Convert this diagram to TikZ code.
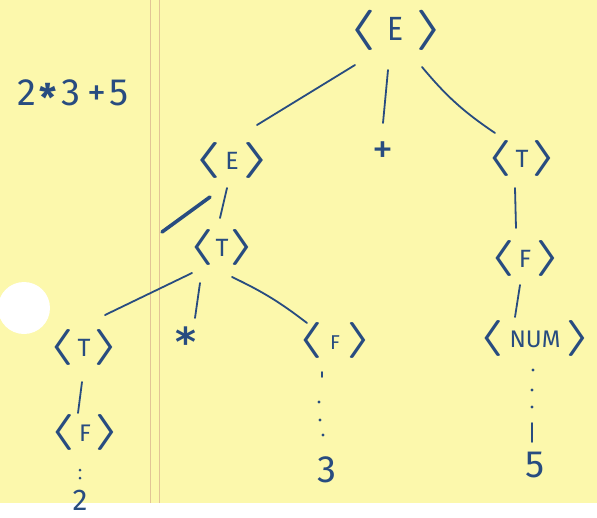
\documentclass[tikz,border=0pt]{standalone}
\usepackage{fontspec}
\setmainfont{Fira Sans}
\newfontfamily\brkfont{DejaVu Sans}
\usetikzlibrary{calc}
\definecolor{paper}{RGB}{252,248,172}
\definecolor{ink}{RGB}{40,76,128}
\definecolor{marginline}{RGB}{226,196,150}
% #1 bracket x-scale
\newcommand\brL[1]{\scalebox{#1}[3.6]{\boldmath$\langle$}}
\newcommand\brR[1]{\scalebox{#1}[3.6]{\boldmath$\rangle$}}
% #1 letters, #2 letter size, #3 gap, #4 bracket x-scale
\newcommand\ntsym[4]{\brL{#4}\hspace{#3}{\fontsize{#2}{#2}\selectfont #1}\hspace{#3}\brR{#4}}
\tikzset{
  every node/.style={inner sep=0pt, text=ink},
  branch/.style={draw=ink, line width=1.8pt, line cap=round},
  dotink/.style={fill=ink},
}
\begin{document}
\begin{tikzpicture}[x=1pt,y=-1pt]
\useasboundingbox (0,0) rectangle (597,517);
% paper
\fill[paper] (0,0) rectangle (597,517);
\fill[white] (0,503) rectangle (597,517);
\draw[marginline, line width=0.8pt] (150,0) -- (150,503);
\draw[marginline, line width=0.8pt] (159,0) -- (159,503);
\fill[white] (24,308) circle (26);
% expression
\node (expr) at (73,96) {\fontsize{38}{38}\selectfont 2\hspace{3pt}{\bfseries\raisebox{-6pt}{*}}\hspace{5pt}3\hspace{7pt}+\hspace{3pt}5};
% nodes
\node (root) at (396,30) {\scalebox{1}[1.12]{\ntsym{E}{30}{11pt}{6.5}}};
\node (E1) at (232,160) {\ntsym{E}{25}{4pt}{6.5}};
\node (plus) at (383,153) {\fontsize{42}{42}\selectfont +};
\node (T2) at (522,158) {\ntsym{T}{25}{3pt}{6}};
\node (T1) at (222,247) {\ntsym{T}{25}{1pt}{6}};
\node (F3) at (525,258) {\ntsym{F}{25}{4pt}{6}};
\node (Tl) at (84,347) {\ntsym{T}{25}{3pt}{6}};
\node (star) at (186,342) {\brkfont\bfseries\fontsize{40}{40}\selectfont\raisebox{-12pt}{*}};
\node (F2) at (335,340) {\ntsym{F}{20}{7pt}{6}};
\node (NUM) at (535,338) {\ntsym{NUM}{24}{5pt}{6}};
\node (Fl) at (85,432) {\ntsym{F}{24}{4pt}{6}};
\node (two) at (80,500) {\fontsize{30}{30}\selectfont 2};
\node (three) at (327,470) {\fontsize{38}{38}\selectfont 3};
\node (five) at (535,465) {\fontsize{38}{38}\selectfont 5};
% branches
\draw[branch] ([shift={(-41,35)}]root.center) -- ([shift={(25,-35)}]E1.center);
\draw[branch] ([shift={(-8,40)}]root.center) -- ([shift={(0,-30)}]plus.center);
\draw[branch] ([shift={(26,37)}]root.center) to[bend right=8] ([shift={(-27,-25)}]T2.center);
\draw[branch] ([shift={(-5,28)}]E1.center) -- ([shift={(-2,-29)}]T1.center);
\draw[branch] ([shift={(-7,30)}]T2.center) -- ([shift={(-9,-30)}]F3.center);
\draw[branch] ([shift={(-5,27)}]F3.center) -- ([shift={(-20,-21)}]NUM.center);
\draw[branch] ([shift={(-30,26)}]T1.center) -- ([shift={(21,-32)}]Tl.center);
\draw[branch] ([shift={(-22,36)}]T1.center) -- ([shift={(9,-24)}]star.center);
\draw[branch] ([shift={(10,30)}]T1.center) to[bend left=6] ([shift={(-28,-17)}]F2.center);
\draw[branch] ([shift={(-2,35)}]Tl.center) -- ([shift={(-7,-19)}]Fl.center);
% stray slash
\draw[draw=ink, line width=3.6pt, line cap=round] ([shift={(-70,72)}]E1.center) -- ([shift={(-22,37)}]E1.center);
% dotted descents
\fill[dotink] ([shift={(0,-30)}]two.center) circle (1.5);
\fill[dotink] ([shift={(0,-22)}]two.center) circle (1.5);
\draw[branch, line width=1.6pt] ([shift={(-13,32)}]F2.center) -- ([shift={(-13,37)}]F2.center);
\fill[dotink] ([shift={(-8,-68)}]three.center) circle (1.6);
\fill[dotink] ([shift={(-7,-50)}]three.center) circle (1.6);
\fill[dotink] ([shift={(-4,-35)}]three.center) circle (1.6);
\fill[dotink] ([shift={(-2,-95)}]five.center) circle (1.6);
\fill[dotink] ([shift={(-3,-75)}]five.center) circle (1.6);
\fill[dotink] ([shift={(-3,-58)}]five.center) circle (1.6);
\draw[branch] ([shift={(-3,-42)}]five.center) -- ([shift={(-3,-23)}]five.center);
\end{tikzpicture}
\end{document}
